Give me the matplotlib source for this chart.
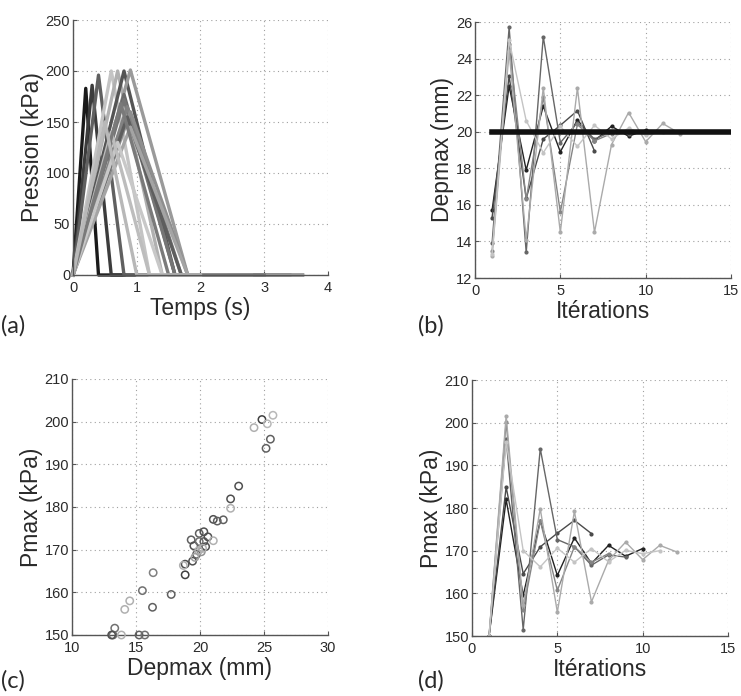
import numpy as np
import matplotlib
matplotlib.use("Agg")
import matplotlib.pyplot as plt

plt.rcParams["font.family"] = ["Liberation Sans", "DejaVu Sans"]

# (a) profils de pression triangulaires : instant du pic, pression du pic, fin du palier à 0
temps_pic = [0.2, 0.3, 0.4, 0.6, 0.7, 0.8, 0.9, 0.8, 0.8, 0.85, 0.9, 0.85, 0.9, 0.7, 0.6, 0.75, 0.5]
pression_pic = [183, 186, 196, 200, 200, 200, 201, 177, 172, 165, 160, 155, 145, 130, 140, 168, 150]
temps_fin = [0.8, 1.2, 1.6, 2.4, 2.8, 3.2, 3.6, 3.2, 3.2, 3.4, 3.6, 3.4, 3.6, 2.8, 2.4, 3.0, 2.0]
gris_a = ["#1a1a1a", "#3c3c3c", "#606060", "#c4c4c4", "#b0b0b0", "#555555", "#9a9a9a",
          "#6a6a6a", "#757575", "#828282", "#8e8e8e", "#5e5e5e", "#a4a4a4", "#c8c8c8",
          "#bdbdbd", "#7a7a7a", "#b8b8b8"]

# (b) Depmax par itération
dep_1 = [15.7, 22.5, 17.9, 21.4, 18.9, 20.65, 19.5, 20.3, 19.75, 20.1]
dep_2 = [15.3, 23.05, 16.35, 19.6, 20.35, 21.15, 18.95]
dep_3 = [13.9, 25.7, 13.4, 25.2, 19.4, 20.5, 19.6, 20.0, 19.9]
dep_4 = [13.45, 24.8, 16.3, 21.9, 15.6, 20.4, 19.5, 19.9]
dep_5 = [13.2, 24.4, 14.1, 22.4, 14.5, 22.4, 14.5, 19.3, 21.05, 19.45, 20.45, 19.9]
dep_6 = [13.3, 25.0, 20.6, 18.85, 20.3, 19.2, 20.35, 19.6, 20.2, 19.8, 20.0]
dep_cible = 20

# (d) Pmax par itération
pm_1 = [150, 182.0, 159.5, 177.0, 164.2, 173.0, 167.0, 171.25, 168.7, 170.5]
pm_2 = [150, 184.9, 164.6, 170.9, 174.1, 177.1, 174.0]
pm_3 = [150, 196.25, 151.5, 193.9, 172.6, 170.9, 166.6, 169.0, 168.5]
pm_4 = [150, 200.2, 156.0, 177.0, 160.7, 170.9, 167.3, 169.3]
pm_5 = [150, 201.6, 157.2, 179.8, 155.6, 179.2, 158.0, 167.7, 172.0, 167.9, 171.25, 169.7]
pm_6 = [150, 195.5, 170.0, 166.2, 170.6, 167.3, 170.5, 167.4, 170.1, 169.3, 170.0]

gris_series = ["#222222", "#4a4a4a", "#666666", "#858585", "#aaaaaa", "#c4c4c4"]

# (c) nuage Depmax / Pmax
c_dep = [13.2, 13.34, 13.86, 13.1, 14.12, 14.51, 15.24, 15.69, 15.5, 16.29, 16.34, 17.75,
         18.84, 18.84, 19.42, 19.31, 19.52, 19.73, 19.94, 19.94, 20.1, 20.3, 20.3, 20.44,
         20.62, 21.04, 21.04, 21.35, 21.82, 22.39, 22.39, 23.02, 24.22, 24.84, 25.26, 25.7,
         25.16, 25.5, 19.9, 20.2, 18.7, 19.6]
c_pm = [150, 151.6, 150, 150, 156.0, 158.0, 150, 150, 160.4, 156.5, 164.6, 159.5,
        164.1, 166.6, 167.3, 172.3, 170.9, 168.9, 173.8, 171.9, 169.5, 174.2, 171.9, 170.7,
        173.0, 172.1, 177.1, 176.7, 177.0, 179.7, 181.9, 184.9, 198.6, 200.5, 199.5, 201.5,
        193.75, 195.9, 169.8, 170.3, 166.3, 168.2]
c_gris = ["#707070", "#707070", "#b0b0b0", "#505050", "#b0b0b0", "#b0b0b0", "#606060", "#707070",
          "#707070", "#606060", "#808080", "#606060", "#404040", "#505050", "#505050", "#606060",
          "#505050", "#606060", "#606060", "#707070", "#909090", "#505050", "#606060", "#505050",
          "#505050", "#b0b0b0", "#505050", "#606060", "#606060", "#b0b0b0", "#505050", "#505050",
          "#b0b0b0", "#404040", "#b8b8b8", "#b8b8b8", "#606060", "#606060", "#b0b0b0", "#b0b0b0",
          "#b0b0b0", "#a0a0a0"]

W, H = 741, 696
COUL_TXT = "#2a2a2a"
TAILLE_LABEL = 16.5


def creer_axe(fig, gauche, haut, droite, bas):
    ax = fig.add_axes([gauche / W, (H - bas) / H, (droite - gauche) / W, (bas - haut) / H])
    for cote in ["top", "right"]:
        ax.spines[cote].set_visible(False)
    for cote in ["left", "bottom"]:
        ax.spines[cote].set_color("#555555")
        ax.spines[cote].set_linewidth(1.0)
    ax.tick_params(direction="in", length=3, labelsize=10.5, colors="#555555",
                   labelcolor=COUL_TXT, pad=2)
    ax.tick_params(axis="x", pad=4)
    ax.grid(True, linestyle=(0, (1, 3)), color="#a0a0a0", linewidth=0.8)
    ax.set_axisbelow(True)
    return ax


fig = plt.figure(figsize=(W / 100, H / 100), dpi=100)

# --- (a)
ax = creer_axe(fig, 73, 20, 328, 275)
for tp, p, tf, c in zip(temps_pic, pression_pic, temps_fin, gris_a):
    ax.plot([0, tp, 2 * tp, tf], [0, p, 0, 0], color=c, linewidth=2.4, clip_on=False)
ax.set_xlim(0, 4)
ax.set_ylim(0, 250)
ax.set_xticks([0, 1, 2, 3, 4])
ax.set_yticks([0, 50, 100, 150, 200, 250])
ax.set_xlabel("Temps (s)", fontsize=TAILLE_LABEL, color=COUL_TXT, labelpad=2)
ax.set_ylabel("Pression (kPa)", fontsize=TAILLE_LABEL, color=COUL_TXT, labelpad=1)

# --- (b)
ax = creer_axe(fig, 475, 22, 731, 278)
for serie, c in zip([dep_1, dep_2, dep_3, dep_4, dep_5, dep_6], gris_series):
    it = np.arange(1, len(serie) + 1)
    ax.plot(it, serie, "-o", color=c, linewidth=1.0, markersize=2)
ax.plot([1, 15], [dep_cible, dep_cible], color="#111111", linewidth=4)
ax.set_xlim(0, 15)
ax.set_ylim(12, 26)
ax.set_xticks([0, 5, 10, 15])
ax.set_yticks(range(12, 27, 2))
ax.set_xlabel("Itérations", fontsize=TAILLE_LABEL, color=COUL_TXT, labelpad=2)
ax.set_ylabel("Depmax (mm)", fontsize=TAILLE_LABEL, color=COUL_TXT, labelpad=1)

# --- (c)
ax = creer_axe(fig, 72, 379, 328, 635)
ax.scatter(c_dep, c_pm, s=28, facecolors="none", edgecolors=c_gris, linewidths=1.1,
           clip_on=False, zorder=3)
ax.set_xlim(10, 30)
ax.set_ylim(150, 210)
ax.set_xticks([10, 15, 20, 25, 30])
ax.set_yticks(range(150, 211, 10))
ax.set_xlabel("Depmax (mm)", fontsize=TAILLE_LABEL, color=COUL_TXT, labelpad=2)
ax.set_ylabel("Pmax (kPa)", fontsize=TAILLE_LABEL, color=COUL_TXT, labelpad=1)

# --- (d)
ax = creer_axe(fig, 472, 380, 728, 636)
for serie, c in zip([pm_1, pm_2, pm_3, pm_4, pm_5, pm_6], gris_series):
    it = np.arange(1, len(serie) + 1)
    ax.plot(it, serie, "-o", color=c, linewidth=1.0, markersize=2)
ax.set_xlim(0, 15)
ax.set_ylim(150, 210)
ax.set_xticks([0, 5, 10, 15])
ax.set_yticks(range(150, 211, 10))
ax.set_xlabel("Itérations", fontsize=TAILLE_LABEL, color=COUL_TXT, labelpad=2)
ax.set_ylabel("Pmax (kPa)", fontsize=TAILLE_LABEL, color=COUL_TXT, labelpad=1)

# étiquettes des panneaux
for txt, x, y in [("(a)", 1, 326), ("(b)", 418, 326), ("(c)", 1, 681), ("(d)", 418, 681)]:
    fig.text(x / W, 1 - y / H, txt, fontsize=17, family=["Lato", "DejaVu Sans"],
             color=COUL_TXT, va="center", ha="left")

fig.savefig("out.png", dpi=100)
